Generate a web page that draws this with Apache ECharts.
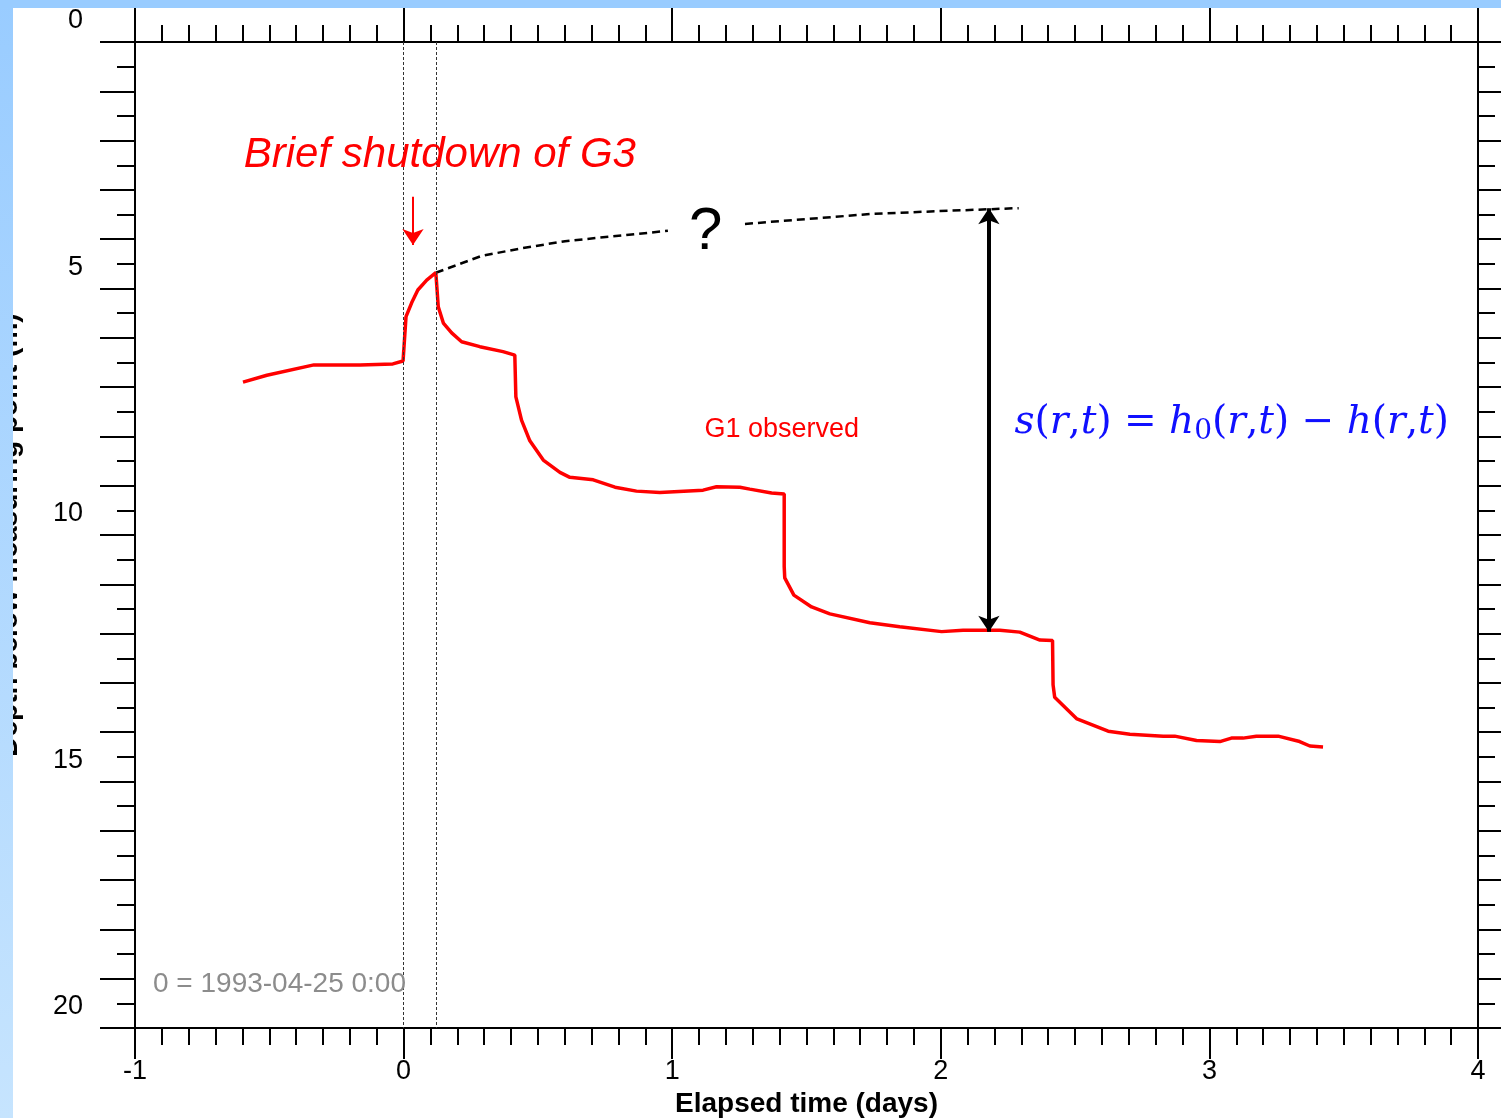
<!DOCTYPE html>
<html>
<head>
<meta charset="utf-8">
<script src="https://cdn.jsdelivr.net/npm/echarts@6/dist/echarts.min.js"></script>
<style>
  html, body { margin: 0; padding: 0; background: #fff; }
  #chart { position: absolute; left: 0; top: 0; width: 1501px; height: 1118px; }
  #topband { position: absolute; left: 0; top: 0; width: 1501px; height: 8px; background: #99ccff; }
  #leftband { position: absolute; left: 0; top: 0; width: 13px; height: 1118px; background: linear-gradient(#99ccff, #c6e4fe); }
</style>
</head>
<body>
<div id="chart"></div>
<div id="leftband"></div>
<div id="topband"></div>
<script>
// G1 observed depth (m below measuring point) vs elapsed days
const g1Time = [-0.598, -0.509, -0.334, -0.162, -0.040, -0.002, 0.009, 0.030, 0.053, 0.086, 0.120,
  0.129, 0.148, 0.179, 0.216, 0.284, 0.370, 0.414, 0.418, 0.439, 0.470, 0.520, 0.582, 0.619, 0.706,
  0.787, 0.867, 0.954, 1.115, 1.165, 1.252, 1.289, 1.370, 1.417, 1.417, 1.419, 1.453, 1.519, 1.587,
  1.736, 1.847, 2.003, 2.083, 2.220, 2.294, 2.369, 2.416, 2.418, 2.424, 2.507, 2.623, 2.704, 2.828,
  2.871, 2.952, 3.039, 3.082, 3.125, 3.175, 3.256, 3.336, 3.374, 3.423]
const g1Depth = [6.90, 6.76, 6.55, 6.55, 6.53, 6.47, 5.57, 5.29, 5.03, 4.83, 4.68,
  5.37, 5.70, 5.90, 6.08, 6.18, 6.28, 6.35, 7.20, 7.67, 8.09, 8.48, 8.73, 8.83, 8.88,
  9.03, 9.11, 9.14, 9.09, 9.02, 9.03, 9.07, 9.15, 9.17, 10.64, 10.87, 11.22, 11.46, 11.60,
  11.78, 11.86, 11.96, 11.93, 11.93, 11.97, 12.13, 12.14, 13.04, 13.29, 13.73, 13.98, 14.04, 14.08,
  14.08, 14.17, 14.19, 14.12, 14.12, 14.08, 14.08, 14.19, 14.28, 14.30]

// undisturbed trend (the "?" part), two dashed pieces
const trendTimeA = [0.120, 0.290, 0.433, 0.601, 0.984]
const trendDepthA = [4.68, 4.34, 4.19, 4.04, 3.83]
const trendTimeB = [1.271, 1.736, 1.996, 2.290]
const trendDepthB = [3.69, 3.49, 3.43, 3.37]

const shutdownTimes = [0, 0.117]
const depthLabels = [0, 5, 10, 15, 20]

const zip = (xs, ys) => xs.map((x, i) => [x, ys[i]])

const chart = echarts.init(document.getElementById('chart'))

const axisLine = { show: true, onZero: false, lineStyle: { color: '#000', width: 2 } }
const tickStyle = { color: '#000', width: 2 }
const font = 'Liberation Sans'

const option = {
  animation: false,
  backgroundColor: '#fff',
  grid: { left: 135, top: 42, right: 23, bottom: 90, containLabel: false, outerBoundsMode: 'none' },
  xAxis: [
    {
      type: 'value', min: -1, max: 4, interval: 1, position: 'bottom',
      name: 'Elapsed time (days)', nameLocation: 'middle', nameGap: 60,
      nameTextStyle: { fontFamily: font, fontSize: 28, fontWeight: 'bold', color: '#000' },
      axisLine: axisLine,
      axisTick: { show: true, length: 31, lineStyle: tickStyle },
      minorTick: { show: true, splitNumber: 10, length: 17, lineStyle: tickStyle },
      axisLabel: { fontFamily: font, fontSize: 27, color: '#000', margin: 30 },
      splitLine: { show: false }
    },
    {
      type: 'value', min: -1, max: 4, interval: 1, position: 'top',
      axisLine: axisLine,
      axisTick: { show: true, length: 40, lineStyle: tickStyle },
      minorTick: { show: true, splitNumber: 10, length: 17, lineStyle: tickStyle },
      axisLabel: { show: false },
      splitLine: { show: false }
    }
  ],
  yAxis: [
    {
      type: 'value', min: 0, max: 20, interval: 1, inverse: true, position: 'left',
      name: 'Depth below measuring point (m)', nameLocation: 'middle', nameGap: 112, nameRotate: 90,
      nameTextStyle: { fontFamily: font, fontSize: 28, fontWeight: 'bold', color: '#000' },
      axisLine: axisLine,
      axisTick: { show: true, length: 35, lineStyle: tickStyle },
      minorTick: { show: true, splitNumber: 2, length: 18, lineStyle: tickStyle },
      axisLabel: {
        customValues: depthLabels, fontFamily: font, fontSize: 27, color: '#000',
        margin: 52, verticalAlign: 'bottom', lineHeight: 42
      },
      splitLine: { show: false }
    },
    {
      type: 'value', min: 0, max: 20, interval: 1, inverse: true, position: 'right',
      axisLine: axisLine,
      axisTick: { show: true, length: 30, lineStyle: tickStyle },
      minorTick: { show: true, splitNumber: 2, length: 17, lineStyle: tickStyle },
      axisLabel: { show: false },
      splitLine: { show: false }
    }
  ],
  series: [
    {
      name: 'G1 observed',
      type: 'line',
      data: zip(g1Time, g1Depth),
      showSymbol: false,
      z: 4,
      lineStyle: { color: '#ff0000', width: 3.5 }
    },
    {
      name: 'trend A',
      type: 'line',
      data: zip(trendTimeA, trendDepthA),
      showSymbol: false,
      z: 3,
      lineStyle: { color: '#000', width: 2.5, type: [8, 5] },
      markLine: {
        silent: true,
        symbol: 'none',
        label: { show: false },
        data: [
          ...shutdownTimes.map(t => ({ xAxis: t, lineStyle: { color: '#333', width: 1, type: [3, 2] } })),
          [
            { coord: [2.179, 3.37], symbol: 'arrow', symbolSize: [16, 16] },
            { coord: [2.179, 11.96], symbol: 'arrow', symbolSize: [16, 16], lineStyle: { color: '#000', width: 4, type: 'solid' } }
          ],
          [
            { coord: [0.035, 3.14], symbol: 'none' },
            { coord: [0.035, 4.12], symbol: 'arrow', symbolSize: [16, 16], lineStyle: { color: '#ff0000', width: 2, type: 'solid' } }
          ]
        ]
      },
      markPoint: {
        silent: true,
        symbol: 'circle',
        symbolSize: 0,
        label: { show: true, position: 'inside', fontFamily: font },
        data: [
          { coord: [0.135, 2.29], label: { formatter: 'Brief shutdown of G3', color: '#ff0000', fontSize: 42, fontStyle: 'italic' } },
          { coord: [1.125, 3.87], label: { formatter: '?', color: '#000', fontSize: 60 } },
          { coord: [1.408, 7.87], label: { formatter: 'G1 observed', color: '#ff0000', fontSize: 27 } },
          { coord: [-0.462, 19.11], label: { formatter: '0 = 1993-04-25 0:00', color: '#8c8c8c', fontSize: 28 } },
          {
            coord: [3.083, 7.73],
            label: {
              formatter: '{i|s}{n|(}{i|r}{n|,}{i|t}{n|) = }{i|h}{sub|0}{n|(}{i|r}{n|,}{i|t}{n|) − }{i|h}{n|(}{i|r}{n|,}{i|t}{n|)}',
              rich: {
                i: { fontFamily: 'DejaVu Serif', fontStyle: 'italic', fontSize: 39, color: '#1010ff' },
                n: { fontFamily: 'DejaVu Serif', fontSize: 39, color: '#1010ff' },
                sub: { fontFamily: 'DejaVu Serif', fontSize: 28, color: '#1010ff', padding: [18, 0, 0, 0] }
              }
            }
          }
        ]
      }
    },
    {
      name: 'trend B',
      type: 'line',
      data: zip(trendTimeB, trendDepthB),
      showSymbol: false,
      z: 3,
      lineStyle: { color: '#000', width: 2.5, type: [8, 5] }
    }
  ]
}

chart.setOption(option)
window.addEventListener('resize', () => chart.resize())
</script>
</body>
</html>
